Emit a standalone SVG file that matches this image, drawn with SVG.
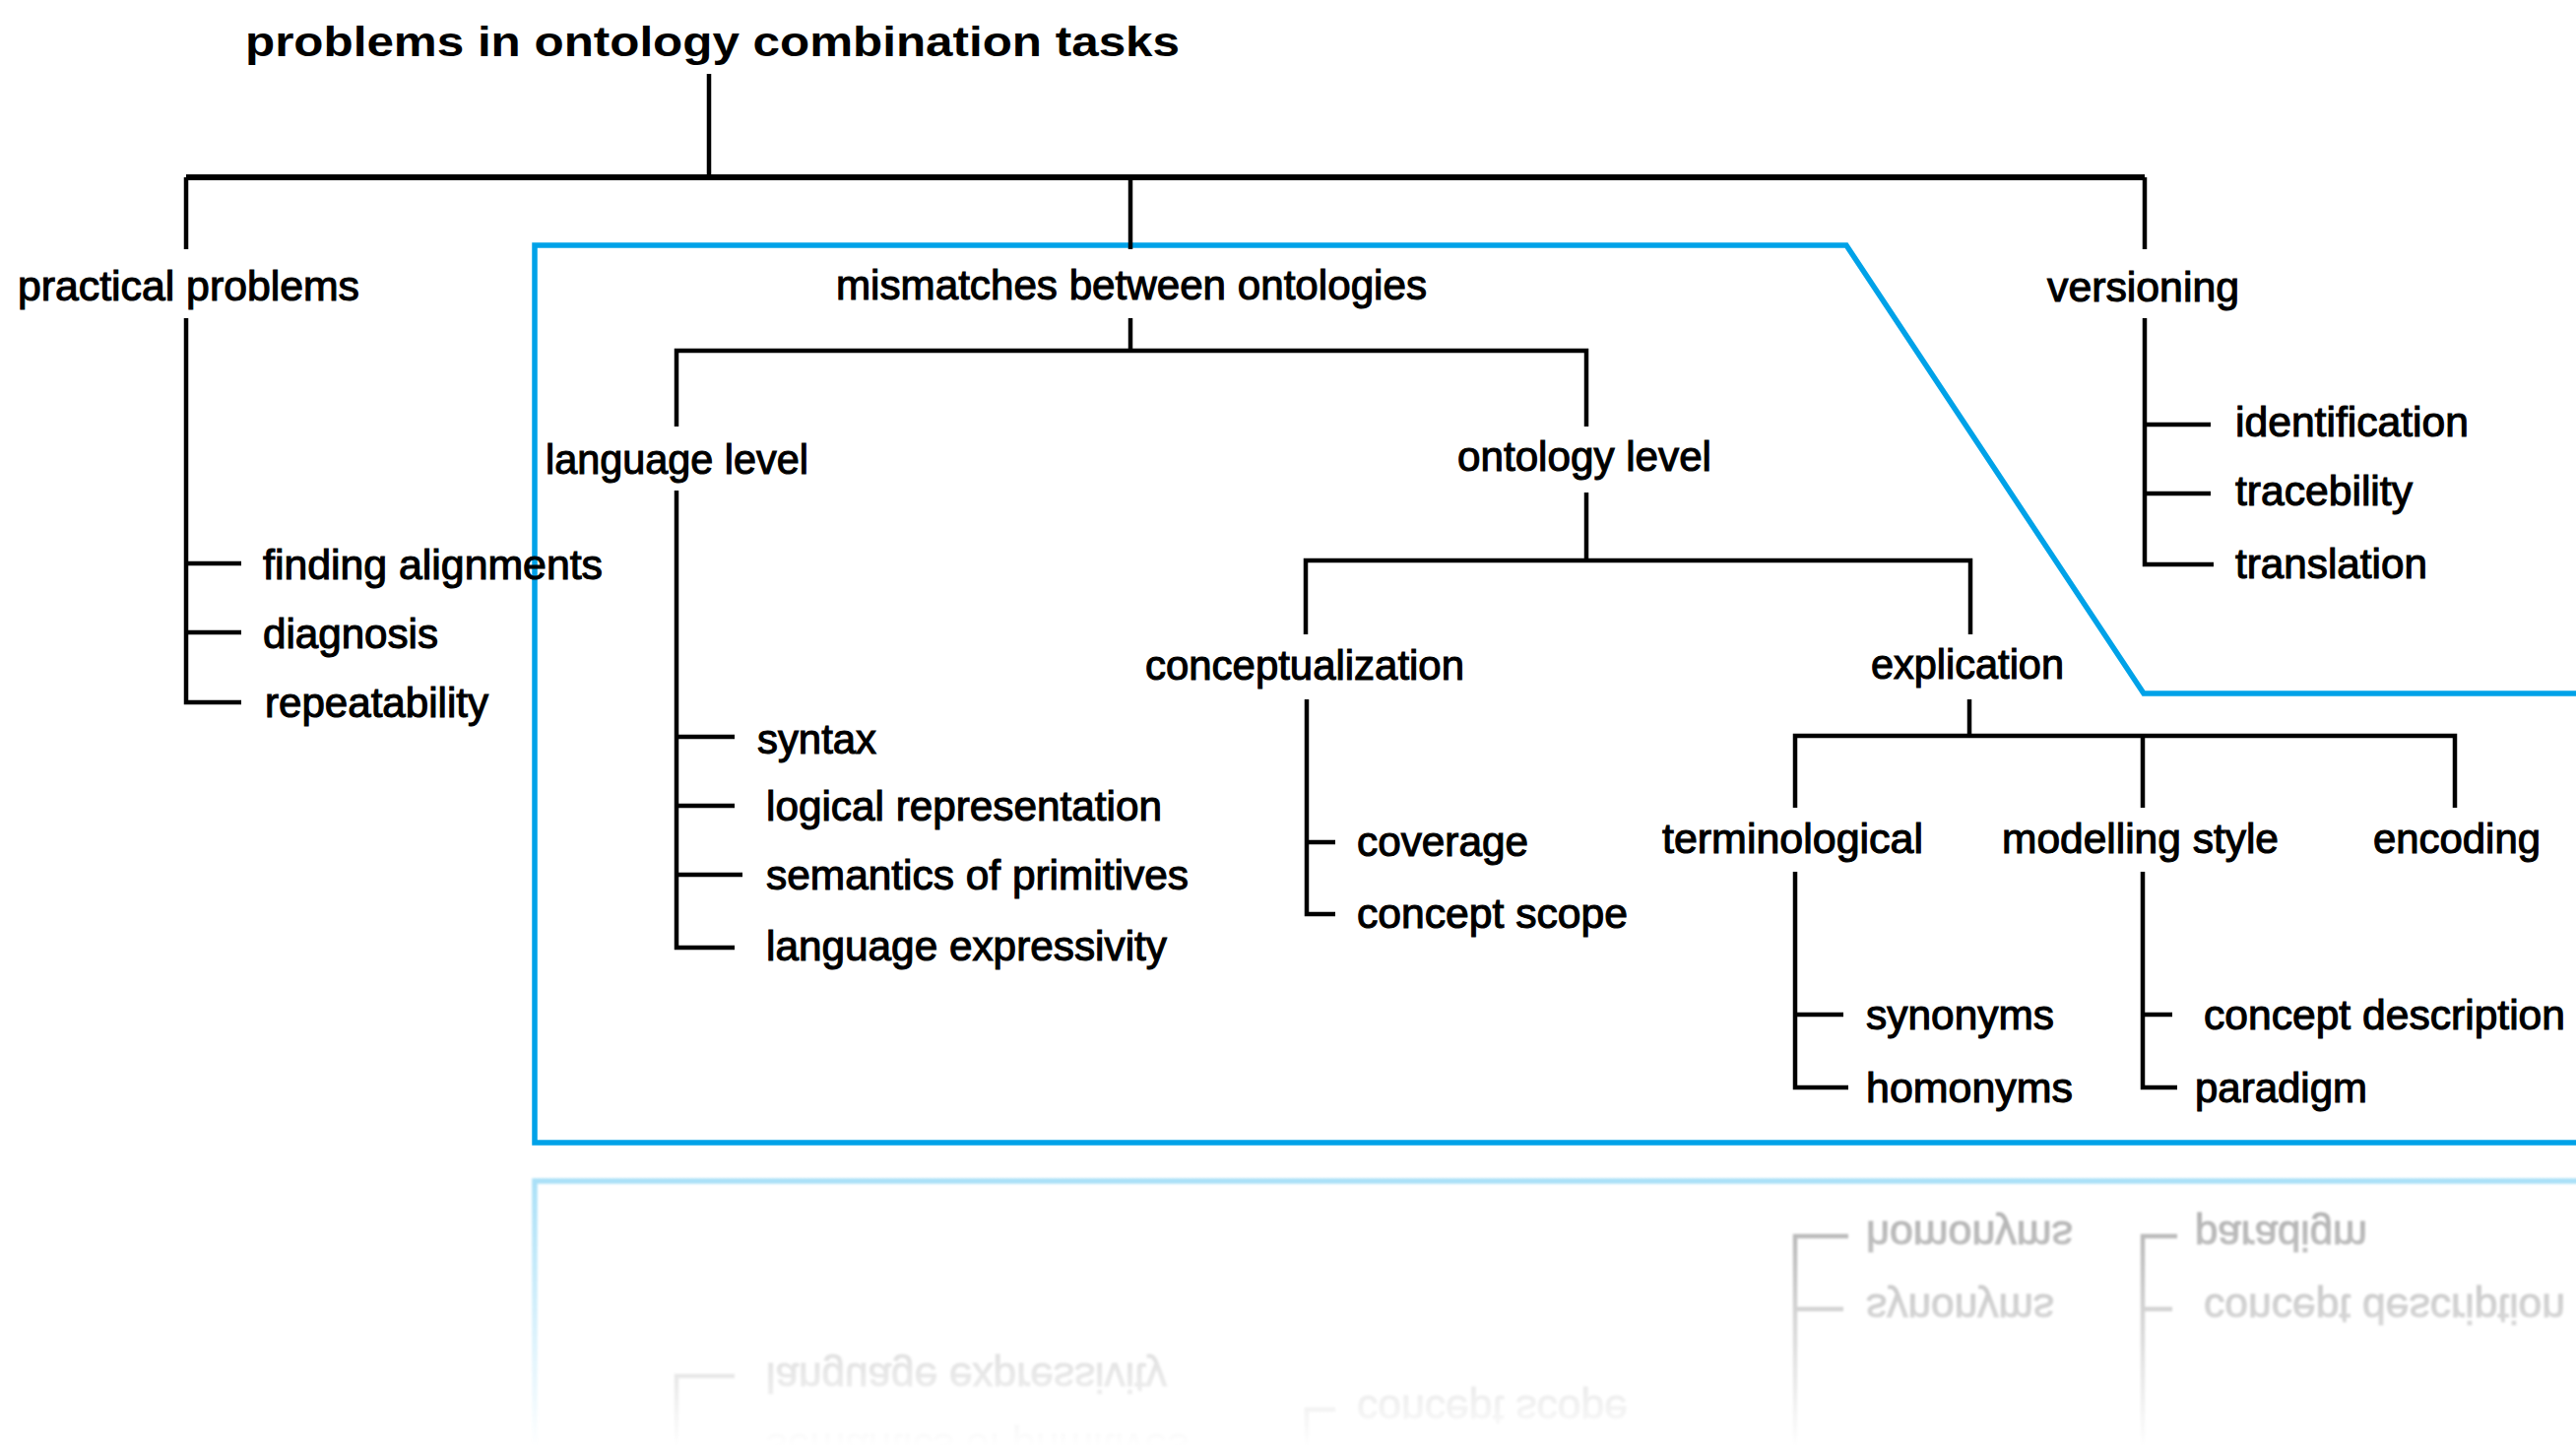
<svg xmlns="http://www.w3.org/2000/svg" xmlns:xlink="http://www.w3.org/1999/xlink" width="2616" height="1469" viewBox="0 0 2616 1469">
  <style>
    .lbl { font-family: "Liberation Sans", Arial, sans-serif; font-size: 42px; fill: #000; stroke: #000; stroke-width: 1.1px; }
    .ttl { font-family: "Liberation Sans", Arial, sans-serif; font-size: 42px; font-weight: bold; fill: #000; }
    .ln { fill: none; stroke: #000; stroke-width: 4.5; stroke-linecap: butt; stroke-linejoin: miter; }
    .frame { fill: none; stroke: #00a2e8; stroke-width: 5.5; stroke-linejoin: miter; }
  </style>
  <defs>
    <linearGradient id="fadeGrad" gradientUnits="userSpaceOnUse" x1="0" y1="1180" x2="0" y2="1469">
      <stop offset="0" stop-color="#fff" stop-opacity="0.36"/>
      <stop offset="1" stop-color="#fff" stop-opacity="0"/>
    </linearGradient>
    <mask id="fade" maskUnits="userSpaceOnUse" x="0" y="1178" width="2616" height="291">
      <rect x="0" y="1178" width="2616" height="291" fill="url(#fadeGrad)"/>
    </mask>
    <clipPath id="below">
      <rect x="0" y="1179" width="2616" height="290"/>
    </clipPath>
    <filter id="soft" x="-1%" y="-1%" width="102%" height="102%">
      <feGaussianBlur stdDeviation="1.2"/>
    </filter>
  </defs>

  <rect width="2616" height="1469" fill="#fff"/>

  <g id="tree">
    <!-- blue frame around the mismatches subtree -->
    <path id="frame" class="frame" d="M2620,704 L2177,704 L1875,249 L543,249 L543,1160 L2620,1160"/>

    <g id="connectors">
      <path class="ln" d="M720,75 V180"/>
      <path class="ln" style="stroke-width:6" d="M189,180 H2178"/>
      <path class="ln" d="M189,180 V253 M1148,180 V253 M2178,180 V253"/>
      <!-- practical problems -->
      <path class="ln" d="M189,323 V713 H245 M189,572 H245 M189,642 H245"/>
      <!-- mismatches between ontologies -->
      <path class="ln" d="M1148,323 V356 M687,433 V356 H1611 V433"/>
      <!-- language level -->
      <path class="ln" d="M687,498 V962 H746 M687,748 H746 M687,818 H746 M687,888 H754"/>
      <!-- ontology level -->
      <path class="ln" d="M1611,500 V569 M1326,644 V569 H2001 V644"/>
      <!-- conceptualization -->
      <path class="ln" d="M1327,710 V928 H1356 M1327,855 H1356"/>
      <!-- explication -->
      <path class="ln" d="M2000,710 V747 M1823,820 V747 H2493 V820 M2176,747 V820"/>
      <!-- terminological -->
      <path class="ln" d="M1823,885 V1104 H1877 M1823,1030 H1872"/>
      <!-- modelling style -->
      <path class="ln" d="M2176,885 V1104 H2211 M2176,1030 H2206"/>
      <!-- versioning -->
      <path class="ln" d="M2178,323 V573 H2248 M2178,431 H2245 M2178,501 H2245"/>
    </g>

    <g id="n-root"><text class="ttl" x="249" y="57" textLength="949" lengthAdjust="spacingAndGlyphs">problems in ontology combination tasks</text></g>

    <g id="n-practical"><text class="lbl" x="18" y="305" textLength="347" lengthAdjust="spacingAndGlyphs">practical problems</text></g>
    <g id="n-finding"><text class="lbl" x="267" y="588" textLength="345" lengthAdjust="spacingAndGlyphs">finding alignments</text></g>
    <g id="n-diagnosis"><text class="lbl" x="267" y="658" textLength="178" lengthAdjust="spacingAndGlyphs">diagnosis</text></g>
    <g id="n-repeat"><text class="lbl" x="269" y="728" textLength="227" lengthAdjust="spacingAndGlyphs">repeatability</text></g>

    <g id="n-mismatch"><text class="lbl" x="849" y="304" textLength="600" lengthAdjust="spacingAndGlyphs">mismatches between ontologies</text></g>
    <g id="n-language"><text class="lbl" x="554" y="481" textLength="267" lengthAdjust="spacingAndGlyphs">language level</text></g>
    <g id="n-syntax"><text class="lbl" x="769" y="765" textLength="121" lengthAdjust="spacingAndGlyphs">syntax</text></g>
    <g id="n-logical"><text class="lbl" x="778" y="833" textLength="402" lengthAdjust="spacingAndGlyphs">logical representation</text></g>
    <g id="n-semantics"><text class="lbl" x="778" y="903" textLength="429" lengthAdjust="spacingAndGlyphs">semantics of primitives</text></g>
    <g id="n-expressivity"><text class="lbl" x="778" y="975" textLength="407" lengthAdjust="spacingAndGlyphs">language expressivity</text></g>

    <g id="n-ontology"><text class="lbl" x="1480" y="478" textLength="258" lengthAdjust="spacingAndGlyphs">ontology level</text></g>
    <g id="n-concept"><text class="lbl" x="1163" y="690" textLength="324" lengthAdjust="spacingAndGlyphs">conceptualization</text></g>
    <g id="n-coverage"><text class="lbl" x="1378" y="869" textLength="174" lengthAdjust="spacingAndGlyphs">coverage</text></g>
    <g id="n-scope"><text class="lbl" x="1378" y="942" textLength="275" lengthAdjust="spacingAndGlyphs">concept scope</text></g>

    <g id="n-explication"><text class="lbl" x="1900" y="689" textLength="196" lengthAdjust="spacingAndGlyphs">explication</text></g>
    <g id="n-terminological"><text class="lbl" x="1688" y="866" textLength="265" lengthAdjust="spacingAndGlyphs">terminological</text></g>
    <g id="n-modelling"><text class="lbl" x="2033" y="866" textLength="281" lengthAdjust="spacingAndGlyphs">modelling style</text></g>
    <g id="n-encoding"><text class="lbl" x="2410" y="866" textLength="170" lengthAdjust="spacingAndGlyphs">encoding</text></g>
    <g id="n-synonyms"><text class="lbl" x="1895" y="1045" textLength="191" lengthAdjust="spacingAndGlyphs">synonyms</text></g>
    <g id="n-homonyms"><text class="lbl" x="1895" y="1119" textLength="210" lengthAdjust="spacingAndGlyphs">homonyms</text></g>
    <g id="n-description"><text class="lbl" x="2238" y="1045" textLength="367" lengthAdjust="spacingAndGlyphs">concept description</text></g>
    <g id="n-paradigm"><text class="lbl" x="2229" y="1119" textLength="175" lengthAdjust="spacingAndGlyphs">paradigm</text></g>

    <g id="n-versioning"><text class="lbl" x="2079" y="306" textLength="195" lengthAdjust="spacingAndGlyphs">versioning</text></g>
    <g id="n-identification"><text class="lbl" x="2270" y="443" textLength="237" lengthAdjust="spacingAndGlyphs">identification</text></g>
    <g id="n-traceability"><text class="lbl" x="2270" y="513" textLength="180" lengthAdjust="spacingAndGlyphs">tracebility</text></g>
    <g id="n-translation"><text class="lbl" x="2270" y="587" textLength="195" lengthAdjust="spacingAndGlyphs">translation</text></g>
  </g>

  <!-- mirrored, fading floor reflection -->
  <g id="reflection" clip-path="url(#below)" mask="url(#fade)">
    <use xlink:href="#tree" href="#tree" transform="matrix(1 0 0 -1 0 2359)" filter="url(#soft)"/>
  </g>
</svg>
